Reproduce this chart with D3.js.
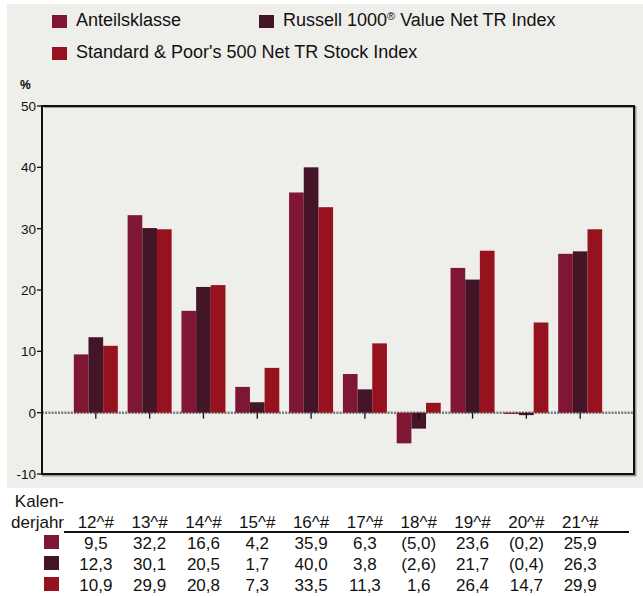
<!DOCTYPE html>
<meta charset="utf-8">
<style>
  body { margin: 0; background: #fff; }
  text { font-family: "Liberation Sans Narrow", "Arial Narrow", "Liberation Sans", Arial, sans-serif; }
</style>
<svg width="643" height="596"></svg>
<script src="https://d3js.org/d3.v7.min.js"></script>
<script>
var years = ["12^#", "13^#", "14^#", "15^#", "16^#", "17^#", "18^#", "19^#", "20^#", "21^#"]
var seriesNames = ["Anteilsklasse", "Russell 1000® Value Net TR Index", "Standard & Poor's 500 Net TR Stock Index"]
var anteil = [9.5, 32.2, 16.6, 4.2, 35.9, 6.3, -5.0, 23.6, -0.2, 25.9]
var russell = [12.3, 30.1, 20.5, 1.7, 40.0, 3.8, -2.6, 21.7, -0.4, 26.3]
var sp500 = [10.9, 29.9, 20.8, 7.3, 33.5, 11.3, 1.6, 26.4, 14.7, 29.9]
var yTicks = [-10, 0, 10, 20, 30, 40, 50]

var colors = ["#7f1734", "#431527", "#97121f"]
var series = [anteil, russell, sp500]

var svg = d3.select('svg')

// grey chart background
svg.append('rect').attr('x', 7).attr('y', 4).attr('width', 636).attr('height', 484).attr('fill', '#eeeeea')

var plotL = 42, plotR = 634, plotT = 106, plotB = 474

var x = d3.scalePoint().domain(years).range([plotL, plotR]).padding(1)
var y = d3.scaleLinear().domain([-10, 50]).range([plotB, plotT])
var inner = d3.scaleBand().domain([0, 1, 2]).range([-22, 22])

// legend
var legendPos = [[52, 15, 76, 26], [259, 15, 283, 26], [52, 47, 76, 58]]
var legend = svg.append('g')
seriesNames.forEach(function (name, i) {
  var p = legendPos[i]
  legend.append('rect').attr('x', p[0]).attr('y', p[1]).attr('width', 15).attr('height', 13).attr('fill', colors[i])
  var t = legend.append('text').attr('x', p[2]).attr('y', p[3]).attr('font-size', 18).attr('fill', '#111')
  if (i === 1) {
    t.append('tspan').text('Russell 1000')
    t.append('tspan').text('®').attr('font-size', 11).attr('dy', -6)
    t.append('tspan').text(' Value Net TR Index').attr('dy', 6)
  } else {
    t.text(name)
  }
})

svg.append('text').attr('x', 20).attr('y', 89).attr('font-size', 12).attr('font-weight', 'bold')
  .style('font-family', 'Liberation Sans, Arial, sans-serif').text('%')

// zero line (dotted)
svg.append('line').attr('x1', plotL).attr('x2', plotR).attr('y1', y(0)).attr('y2', y(0))
  .attr('stroke', '#7a7a7a').attr('stroke-width', 2.5).attr('stroke-dasharray', '2,1.2')

// bars
series.forEach(function (vals, s) {
  svg.append('g').selectAll('rect').data(vals).enter().append('rect')
    .attr('x', function (d, i) { return x(years[i]) + inner(s) })
    .attr('width', inner.bandwidth())
    .attr('y', function (d) { return y(Math.max(0, d)) })
    .attr('height', function (d) { return Math.abs(y(d) - y(0)) })
    .attr('fill', colors[s])
})

// tick marks below zero line
svg.append('g').selectAll('line').data(years).enter().append('line')
  .attr('x1', function (d) { return x(d) }).attr('x2', function (d) { return x(d) })
  .attr('y1', y(0)).attr('y2', y(0) + 6).attr('stroke', '#111').attr('stroke-width', 1.3)

// frame with shadow
svg.append('path').attr('d', 'M' + (plotL + 2) + ',' + (plotT + 1) + 'H' + (plotR + 1.5) + 'V' + (plotB + 1.5) + 'H' + plotL)
  .attr('fill', 'none').attr('stroke', '#9a9a9a').attr('stroke-width', 2)
svg.append('rect').attr('x', plotL).attr('y', plotT).attr('width', plotR - plotL).attr('height', plotB - plotT)
  .attr('fill', 'none').attr('stroke', '#111').attr('stroke-width', 2)

// y axis labels
var yAxis = svg.append('g')
yTicks.forEach(function (t) {
  yAxis.append('line').attr('x1', plotL - 5).attr('x2', plotL).attr('y1', y(t)).attr('y2', y(t)).attr('stroke', '#111').attr('stroke-width', 1.3)
  yAxis.append('text').attr('x', plotL - 6).attr('y', y(t) + 5).attr('text-anchor', 'end')
    .attr('font-size', 13.5).style('font-family', 'Liberation Sans, Arial, sans-serif').attr('fill', '#111').text(t)
})

// table
function fmt(v) {
  var s = Math.abs(v).toFixed(1).replace('.', ',')
  return v < 0 ? '(' + s + ')' : s
}
var table = svg.append('g').attr('font-size', 17).attr('fill', '#111')
table.append('text').attr('x', 64).attr('y', 507).attr('text-anchor', 'end').text('Kalen-')
table.append('text').attr('x', 64).attr('y', 528).attr('text-anchor', 'end').text('derjahr')
years.forEach(function (yr) {
  table.append('text').attr('x', x(yr)).attr('y', 528).attr('text-anchor', 'middle').text(yr)
})
table.append('line').attr('x1', 64).attr('x2', 629).attr('y1', 532).attr('y2', 532).attr('stroke', '#111').attr('stroke-width', 2)
var rowY = [549, 570, 591]
series.forEach(function (vals, s) {
  table.append('rect').attr('x', 44).attr('y', rowY[s] - 14).attr('width', 15).attr('height', 14).attr('fill', colors[s])
  vals.forEach(function (v, i) {
    table.append('text').attr('x', x(years[i])).attr('y', rowY[s]).attr('text-anchor', 'middle').text(fmt(v))
  })
})
</script>
